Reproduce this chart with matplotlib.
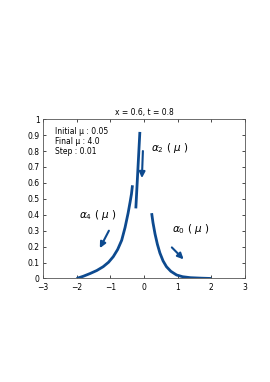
import matplotlib
matplotlib.use("Agg")
import matplotlib.pyplot as plt

# curves
a4_x = [-2.0, -1.8, -1.6, -1.4, -1.21, -1.05, -0.91, -0.78, -0.66, -0.56, -0.47, -0.41, -0.37, -0.34]
a4_y = [0.0, 0.014, 0.031, 0.05, 0.074, 0.102, 0.137, 0.182, 0.24, 0.32, 0.41, 0.48, 0.53, 0.585]

a2_x = [-0.24, -0.21, -0.18, -0.15, -0.12]
a2_y = [0.44, 0.56, 0.68, 0.80, 0.92]

a0_x = [0.23, 0.27, 0.33, 0.40, 0.475, 0.57, 0.67, 0.8, 0.97, 1.15, 1.38, 1.7, 2.0]
a0_y = [0.41, 0.35, 0.28, 0.215, 0.16, 0.11, 0.074, 0.045, 0.022, 0.011, 0.005, 0.002, 0.0]

# arrows: (start, end)
arrows = [((-1.04, 0.30), (-1.31, 0.19)),
          ((-0.03, 0.80), (-0.06, 0.63)),
          ((0.83, 0.195), (1.18, 0.12))]

labels = [r"$\alpha_4$ ( $\mu$ )", r"$\alpha_2$ ( $\mu$ )", r"$\alpha_0$ ( $\mu$ )"]
label_pos = [(-1.92, 0.40), (0.2, 0.82), (0.83, 0.31)]

info = ["Initial \u03bc : 0.05", "Final \u03bc : 4.0", "Step : 0.01"]
info_y = [0.923, 0.858, 0.795]

xticks = [-3, -2, -1, 0, 1, 2, 3]
yticks = [0, 0.1, 0.2, 0.3, 0.4, 0.5, 0.6, 0.7, 0.8, 0.9, 1]

color = "#0d4a8f"

fig = plt.figure(figsize=(2.7, 3.82), dpi=100)
ax = fig.add_axes([0.159, 0.271, 0.748, 0.417])

for xs, ys in [(a4_x, a4_y), (a2_x, a2_y), (a0_x, a0_y)]:
    ax.plot(xs, ys, color=color, lw=2.0, solid_capstyle="butt")

for (x0, y0), (x1, y1) in arrows:
    ax.annotate("", xy=(x1, y1), xytext=(x0, y0),
                arrowprops=dict(arrowstyle="-|>,head_length=0.35,head_width=0.17",
                                color=color, lw=1.5, shrinkA=0, shrinkB=0))

for lab, (lx, ly) in zip(labels, label_pos):
    ax.text(lx, ly, lab, fontsize=7.5, ha="left", va="center")

for t, yy in zip(info, info_y):
    ax.text(-2.64, yy, t, fontsize=5.5, ha="left", va="center")

ax.set_title("x = 0.6, t = 0.8", fontsize=5.5, pad=3)
ax.set_xlim(-3, 3)
ax.set_ylim(0, 1)
ax.set_xticks(xticks)
ax.set_yticks(yticks)
ax.set_yticklabels([("%g" % v) for v in yticks])
ax.tick_params(direction="in", length=2.5, width=0.5, labelsize=5.5,
               top=True, right=True)
ax.tick_params(axis="y", pad=2.5)
ax.tick_params(axis="x", pad=3.5)
for s in ax.spines.values():
    s.set_linewidth(0.6)
    s.set_color("#555555")

fig.savefig("out.png", dpi=100)
